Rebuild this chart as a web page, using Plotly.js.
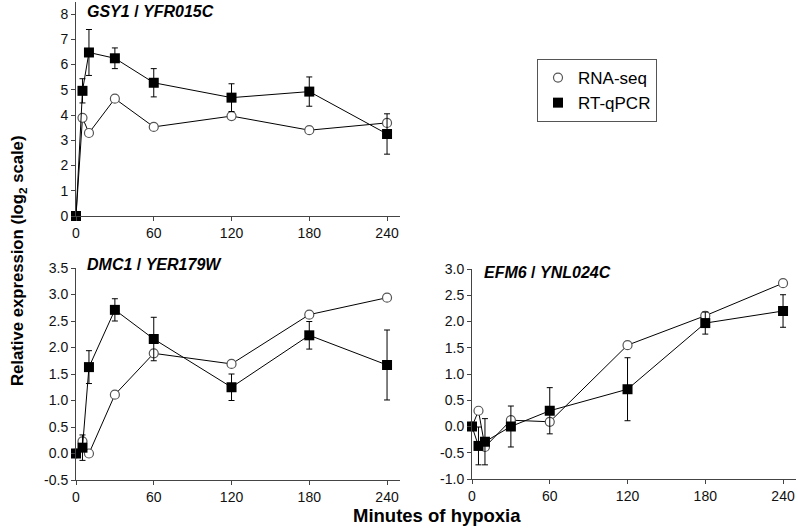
<!DOCTYPE html>
<html>
<head>
<meta charset="utf-8">
<script src="https://cdn.plot.ly/plotly-3.0.1.min.js"></script>
<style>html,body{margin:0;padding:0;background:#fff;}#chart{width:798px;height:528px;}</style>
</head>
<body>
<div id="chart"></div>
<script>
// time points (minutes of hypoxia)
const minutes = [0, 5, 10, 30, 60, 120, 180, 240];

// GSY1 / YFR015C
const gsy1Rna = [0, 3.89, 3.29, 4.65, 3.53, 3.96, 3.40, 3.69];
const gsy1Pcr = [0, 4.96, 6.48, 6.25, 5.28, 4.69, 4.93, 3.25];
const gsy1PcrErr = [0, 0.48, 0.91, 0.41, 0.56, 0.55, 0.58, 0.80];

// DMC1 / YER179W
const dmc1Rna = [0, 0.23, 0.0, 1.11, 1.89, 1.69, 2.62, 2.94];
const dmc1Pcr = [0, 0.11, 1.63, 2.71, 2.16, 1.25, 2.23, 1.67];
const dmc1PcrErr = [0, 0.24, 0.31, 0.21, 0.41, 0.25, 0.26, 0.66];

// EFM6 / YNL024C
const efm6Rna = [0, 0.30, -0.39, 0.12, 0.09, 1.55, 2.11, 2.73];
const efm6Pcr = [0, -0.37, -0.29, 0.0, 0.30, 0.71, 1.97, 2.20];
const efm6PcrErr = [0, 0.36, 0.44, 0.39, 0.44, 0.60, 0.21, 0.31];

// axis ticks
const xTicks = [0, 60, 120, 180, 240];
const xTickLabels = ['0', '60', '120', '180', '240'];
const y1Ticks = [0, 1, 2, 3, 4, 5, 6, 7, 8];
const y1TickLabels = ['0', '1', '2', '3', '4', '5', '6', '7', '8'];
const y2Ticks = [-0.5, 0, 0.5, 1, 1.5, 2, 2.5, 3, 3.5];
const y2TickLabels = ['-0.5', '0.0', '0.5', '1.0', '1.5', '2.0', '2.5', '3.0', '3.5'];
const y3Ticks = [-1, -0.5, 0, 0.5, 1, 1.5, 2, 2.5, 3];
const y3TickLabels = ['-1.0', '-0.5', '0.0', '0.5', '1.0', '1.5', '2.0', '2.5', '3.0'];

const seriesNames = ['RNA-seq', 'RT-qPCR'];
const panelTitles = ['<b><i>GSY1</i> / <i>YFR015C</i></b>', '<b><i>DMC1</i> / <i>YER179W</i></b>', '<b><i>EFM6</i> / <i>YNL024C</i></b>'];
const xTitle = 'Minutes of hypoxia';
const yTitle = 'Relative expression (log<sub>2</sub> scale)';

const FONT = 'Liberation Sans, Arial, sans-serif';
const circleMarker = {symbol: 'circle', size: 9, color: '#ffffff', line: {color: '#555555', width: 1.2}};
const squareMarker = {symbol: 'square', size: 10, color: '#000000', line: {color: '#000000', width: 0}};
const lineStyle = {color: '#000000', width: 1};

function rnaTrace(y, xa, ya) {
  return {x: minutes, y: y, xaxis: xa, yaxis: ya, mode: 'lines+markers', type: 'scatter',
    line: lineStyle, marker: circleMarker, showlegend: false, cliponaxis: false, hoverinfo: 'skip'};
}
function pcrTrace(y, err, xa, ya) {
  return {x: minutes, y: y, xaxis: xa, yaxis: ya, mode: 'lines+markers', type: 'scatter',
    line: lineStyle, marker: squareMarker, showlegend: false, cliponaxis: false, hoverinfo: 'skip',
    error_y: {type: 'data', array: err, visible: true, color: '#000000', thickness: 1, width: 3}};
}

const data = [
  rnaTrace(gsy1Rna, 'x', 'y'),
  pcrTrace(gsy1Pcr, gsy1PcrErr, 'x', 'y'),
  rnaTrace(dmc1Rna, 'x2', 'y2'),
  pcrTrace(dmc1Pcr, dmc1PcrErr, 'x2', 'y2'),
  rnaTrace(efm6Rna, 'x3', 'y3'),
  pcrTrace(efm6Pcr, efm6PcrErr, 'x3', 'y3'),
  // legend entries (markers only)
  {x: [null], y: [null], xaxis: 'x', yaxis: 'y', mode: 'markers', type: 'scatter', name: seriesNames[0],
    marker: circleMarker, showlegend: true},
  {x: [null], y: [null], xaxis: 'x', yaxis: 'y', mode: 'markers', type: 'scatter', name: seriesNames[1],
    marker: squareMarker, showlegend: true}
];

function xAxis(domain, anchor) {
  return {domain: domain, anchor: anchor, range: [0, 250], tickvals: xTicks, ticktext: xTickLabels,
    showline: true, linecolor: '#444444', linewidth: 1, ticks: 'outside', ticklen: 4, tickcolor: '#444444',
    showgrid: false, zeroline: false, automargin: false,
    tickfont: {family: FONT, size: 14, color: '#111111'}};
}
function yAxis(domain, anchor, range, vals, labels) {
  return {domain: domain, anchor: anchor, range: range, tickvals: vals, ticktext: labels,
    showline: true, linecolor: '#444444', linewidth: 1, ticks: 'outside', ticklen: 4, tickcolor: '#444444',
    showgrid: false, zeroline: false, automargin: false,
    tickfont: {family: FONT, size: 14, color: '#111111'}};
}

const W = 798, H = 528;
const layout = {
  width: W, height: H,
  margin: {l: 0, r: 0, t: 0, b: 0},
  paper_bgcolor: '#ffffff', plot_bgcolor: 'rgba(0,0,0,0)',
  font: {family: FONT, color: '#000000'},
  xaxis: xAxis([76 / W, 400 / W], 'y'),
  yaxis: yAxis([(H - 216) / H, (H - 1.5) / H], 'x', [0, 8.5], y1Ticks, y1TickLabels),
  xaxis2: xAxis([76 / W, 400 / W], 'y2'),
  yaxis2: yAxis([(H - 480) / H, (H - 268) / H], 'x2', [-0.5, 3.5], y2Ticks, y2TickLabels),
  xaxis3: xAxis([472 / W, 796 / W], 'y3'),
  yaxis3: yAxis([(H - 479) / H, (H - 269) / H], 'x3', [-1, 3], y3Ticks, y3TickLabels),
  showlegend: true,
  legend: {x: 537 / W, y: (H - 59) / H, xanchor: 'left', yanchor: 'top',
    bordercolor: '#555555', borderwidth: 1, bgcolor: '#ffffff',
    font: {family: FONT, size: 17, color: '#000000'}, itemwidth: 30, tracegroupgap: 0},
  annotations: [
    {text: panelTitles[0], xref: 'paper', yref: 'paper', x: 85 / W, y: (H - 11) / H, xanchor: 'left', yanchor: 'middle',
      showarrow: false, font: {family: FONT, size: 16, color: '#000000'}},
    {text: panelTitles[1], xref: 'paper', yref: 'paper', x: 85 / W, y: (H - 264) / H, xanchor: 'left', yanchor: 'middle',
      showarrow: false, font: {family: FONT, size: 16, color: '#000000'}},
    {text: panelTitles[2], xref: 'paper', yref: 'paper', x: 482 / W, y: (H - 272) / H, xanchor: 'left', yanchor: 'middle',
      showarrow: false, font: {family: FONT, size: 16, color: '#000000'}},
    {text: '<b>' + xTitle + '</b>', xref: 'paper', yref: 'paper', x: 437 / W, y: (H - 515) / H, xanchor: 'center', yanchor: 'middle',
      showarrow: false, font: {family: FONT, size: 18.5, color: '#000000'}},
    {text: '<b>' + yTitle + '</b>', xref: 'paper', yref: 'paper', x: 18 / W, y: (H - 261) / H, xanchor: 'center', yanchor: 'middle',
      textangle: -90, showarrow: false, font: {family: FONT, size: 16.7, color: '#000000'}}
  ]
};

Plotly.newPlot('chart', data, layout, {staticPlot: true, displayModeBar: false});
</script>
</body>
</html>
